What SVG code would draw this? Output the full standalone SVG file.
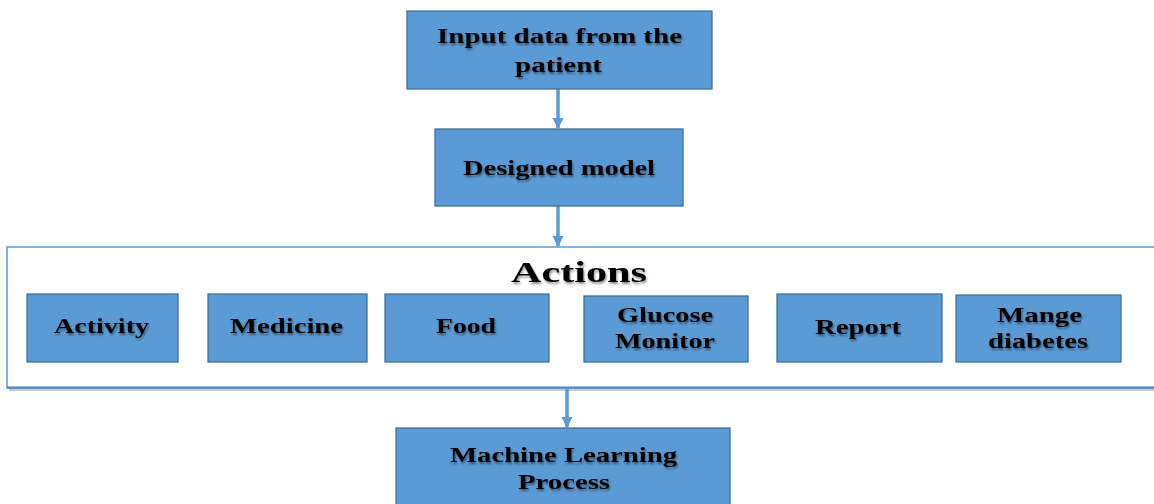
<svg xmlns="http://www.w3.org/2000/svg" width="1154" height="504" viewBox="0 0 1154 504">
<style>
.box{fill:#5B9BD5;stroke:#41719C;stroke-width:1.3}
.t{font-family:"Liberation Serif","Times New Roman",serif;font-weight:bold;font-size:21px;fill:#000;text-anchor:start}
.big{font-size:30px}
.conn{stroke:#5B9BD5;stroke-width:3.5;fill:none}
</style>
<defs>
<marker id="ah" viewBox="0 0 10 10" refX="9" refY="5" markerWidth="3.4" markerHeight="3.2" orient="auto" markerUnits="strokeWidth">
<path d="M0,0 L10,5 L0,10 z" fill="#5B9BD5"/>
</marker>
<filter id="ts" x="-5%" y="-20%" width="110%" height="140%">
<feGaussianBlur in="SourceAlpha" stdDeviation="0.8"/>
<feOffset dx="1" dy="1.5" result="b"/>
<feComponentTransfer><feFuncA type="linear" slope="0.45"/></feComponentTransfer>
<feMerge><feMergeNode/><feMergeNode in="SourceGraphic"/></feMerge>
</filter>
</defs>
<rect width="1154" height="504" fill="#fff"/>

<g id="actions-container">
<rect x="9" y="250" width="1160" height="141" fill="#a6a6a6" opacity="0.6"/>
<rect x="7" y="247" width="1160" height="141" fill="#fff" stroke="#5B9BD5" stroke-width="1.5"/>
<line x1="7" y1="387.5" x2="1154" y2="387.5" stroke="#4A86C0" stroke-width="2"/>
<text class="t big" x="511" y="282" textLength="136" lengthAdjust="spacingAndGlyphs" filter="url(#ts)">Actions</text>
</g>

<g id="connectors">
<line class="conn" x1="558" y1="89" x2="558" y2="128" marker-end="url(#ah)"/>
<line class="conn" x1="558" y1="206" x2="558" y2="246" marker-end="url(#ah)"/>
<line class="conn" x1="567" y1="389" x2="567" y2="427" marker-end="url(#ah)"/>
</g>

<g id="input">
<rect class="box" x="407" y="11" width="305" height="78"/>
<g filter="url(#ts)">
<text class="t" x="437" y="43" textLength="245" lengthAdjust="spacingAndGlyphs">Input data from the</text>
<text class="t" x="515" y="72" textLength="87" lengthAdjust="spacingAndGlyphs">patient</text>
</g>
</g>

<g id="designed">
<rect class="box" x="435" y="129" width="248" height="77"/>
<text class="t" x="463" y="175" textLength="192" lengthAdjust="spacingAndGlyphs" filter="url(#ts)">Designed model</text>
</g>

<g id="activity">
<rect class="box" x="27" y="294" width="151" height="68"/>
<text class="t" x="54" y="333" textLength="95" lengthAdjust="spacingAndGlyphs" filter="url(#ts)">Activity</text>
</g>

<g id="medicine">
<rect class="box" x="208" y="294" width="159" height="68"/>
<text class="t" x="230" y="333" textLength="113" lengthAdjust="spacingAndGlyphs" filter="url(#ts)">Medicine</text>
</g>

<g id="food">
<rect class="box" x="385" y="294" width="164" height="68"/>
<text class="t" x="436" y="333" textLength="60" lengthAdjust="spacingAndGlyphs" filter="url(#ts)">Food</text>
</g>

<g id="glucose">
<rect class="box" x="584" y="296" width="164" height="66"/>
<g filter="url(#ts)">
<text class="t" x="617" y="322" textLength="96" lengthAdjust="spacingAndGlyphs">Glucose</text>
<text class="t" x="615" y="348" textLength="100" lengthAdjust="spacingAndGlyphs">Monitor</text>
</g>
</g>

<g id="report">
<rect class="box" x="777" y="294" width="165" height="68"/>
<text class="t" x="815" y="334" textLength="86" lengthAdjust="spacingAndGlyphs" filter="url(#ts)">Report</text>
</g>

<g id="mange">
<rect class="box" x="956" y="295" width="165" height="67"/>
<g filter="url(#ts)">
<text class="t" x="997" y="322" textLength="85" lengthAdjust="spacingAndGlyphs">Mange</text>
<text class="t" x="988" y="348" textLength="100" lengthAdjust="spacingAndGlyphs">diabetes</text>
</g>
</g>

<g id="ml">
<rect class="box" x="396" y="428" width="334" height="80"/>
<g filter="url(#ts)">
<text class="t" x="450" y="462" textLength="227" lengthAdjust="spacingAndGlyphs">Machine Learning</text>
<text class="t" x="518" y="489" textLength="92" lengthAdjust="spacingAndGlyphs">Process</text>
</g>
</g>
</svg>
